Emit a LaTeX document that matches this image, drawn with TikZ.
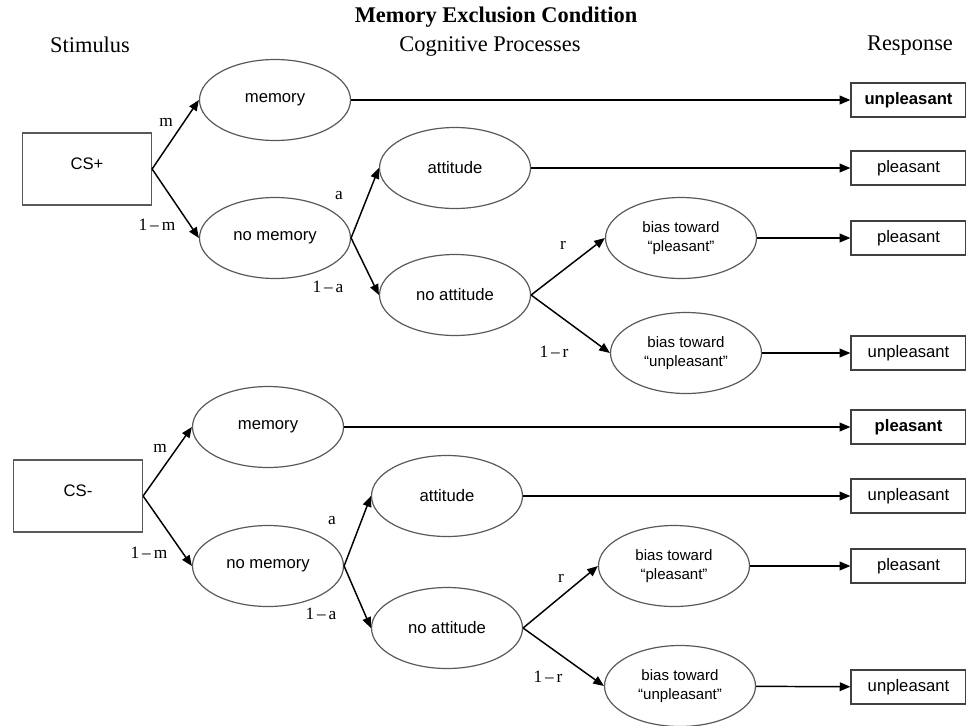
\documentclass[tikz,border=0pt]{standalone}
\usepackage{fontspec}
\setmainfont{Liberation Serif}
\newfontfamily\arialfont{Liberation Sans}
\usetikzlibrary{shapes.geometric,arrows.meta,positioning}

\tikzstyle{procNode} = [ellipse, minimum width=113.25pt, minimum height=60.75pt, inner sep=0pt, align=center, draw=black!65, line width=0.9pt, font=\arialfont\fontsize{12.5}{14}\selectfont]
\tikzstyle{biasNode} = [procNode, font=\arialfont\fontsize{11.3}{14}\selectfont]
\tikzstyle{stimNode} = [rectangle, minimum width=96.75pt, text height=27pt, text depth=27pt, inner sep=0pt, draw=black!65, line width=0.9pt, font=\arialfont\fontsize{12.5}{14}\selectfont]
\tikzstyle{respNode} = [rectangle, minimum width=86.25pt, minimum height=25.5pt, inner sep=0pt, draw=black!75, line width=0.9pt, font=\arialfont\fontsize{12.5}{14}\selectfont]
\tikzstyle{probLabel} = [inner sep=0pt, font=\fontsize{13}{15}\selectfont]
\tikzstyle{headLabel} = [inner sep=0pt, font=\fontsize{16.8}{20}\selectfont]
\tikzstyle{arrow} = [line width=1.1pt, -{Triangle[length=8pt,width=6.5pt]}]

\begin{document}
\begin{tikzpicture}[x=0.75pt, y=-0.75pt]
    \useasboundingbox (0,0) rectangle (966,725);

    % headings
    \node (title)[headLabel, font=\bfseries\fontsize{16.8}{20}\selectfont] at (496,17) {Memory Exclusion Condition};
    \node (stimHead)[headLabel] at (90,45) {Stimulus};
    \node (cogHead)[headLabel] at (490,46) {Cognitive Processes};
    \node (respHead)[headLabel] at (910,46) {Response};

    % CS+ tree
    \node (csPlus)[stimNode] at (87,169) {CS+};
    \node (memPlus)[procNode] at (275,100) {memory};
    \node (noMemPlus)[procNode, below=103.5pt of memPlus.center, anchor=center] {no memory};
    \node (attPlus)[procNode] at (455,168) {attitude};
    \node (noAttPlus)[procNode] at (455,295) {no attitude};
    \node (biasPPlus)[biasNode] at (681,238) {bias toward\\“pleasant”};
    \node (biasUPlus)[biasNode] at (686,353) {bias toward\\“unpleasant”};

    \node (resp1)[respNode, font=\arialfont\bfseries\fontsize{12.5}{14}\selectfont] at (908.5,100) {unpleasant};
    \node (resp2)[respNode] at (908.5,168) {pleasant};
    \node (resp3)[respNode] at (908.5,238) {pleasant};
    \node (resp4)[respNode] at (908.5,353) {unpleasant};

    % CS- tree
    \node (csMinus)[stimNode] at (78,496) {CS-};
    \node (memMinus)[procNode] at (268,427) {memory};
    \node (noMemMinus)[procNode, below=104.25pt of memMinus.center, anchor=center] {no memory};
    \node (attMinus)[procNode] at (447,496) {attitude};
    \node (noAttMinus)[procNode] at (447,628) {no attitude};
    \node (biasPMinus)[biasNode] at (674,566) {bias toward\\“pleasant”};
    \node (biasUMinus)[biasNode] at (680,686) {bias toward\\“unpleasant”};

    \node (resp5)[respNode, font=\arialfont\bfseries\fontsize{12.5}{14}\selectfont] at (908.5,427) {pleasant};
    \node (resp6)[respNode] at (908.5,496) {unpleasant};
    \node (resp7)[respNode] at (908.5,566) {pleasant};
    \node (resp8)[respNode] at (908.5,687) {unpleasant};

    % probabilities
    \node (pM1)[probLabel] at (166,122) {m};
    \node (pNM1)[probLabel] at (157,225) {1\,–\,m};
    \node (pA1)[probLabel] at (339,196) {a};
    \node (pNA1)[probLabel] at (328,287) {1\,–\,a};
    \node (pR1)[probLabel] at (563,245) {r};
    \node (pNR1)[probLabel] at (554,352) {1\,–\,r};
    \node (pM2)[probLabel] at (160,448) {m};
    \node (pNM2)[probLabel] at (149,553) {1\,–\,m};
    \node (pA2)[probLabel] at (332,521) {a};
    \node (pNA2)[probLabel] at (321,614) {1\,–\,a};
    \node (pR2)[probLabel] at (561,578) {r};
    \node (pNR2)[probLabel] at (548,677) {1\,–\,r};

    \draw [arrow] (csPlus.east) -- (memPlus.west);
    \draw [arrow] (csPlus.east) -- (noMemPlus.west);
    \draw [arrow] (noMemPlus.east) -- (attPlus.west);
    \draw [arrow] (noMemPlus.east) -- (noAttPlus.west);
    \draw [arrow] (noAttPlus.east) -- (biasPPlus.west);
    \draw [arrow] (noAttPlus.east) -- (biasUPlus.west);
    \draw [arrow] (memPlus) -- (resp1);
    \draw [arrow] (attPlus) -- (resp2);
    \draw [arrow] (biasPPlus) -- (resp3);
    \draw [arrow] (biasUPlus) -- (resp4);

    \draw [arrow] (csMinus.east) -- (memMinus.west);
    \draw [arrow] (csMinus.east) -- (noMemMinus.west);
    \draw [arrow] (noMemMinus.east) -- (attMinus.west);
    \draw [arrow] (noMemMinus.east) -- (noAttMinus.west);
    \draw [arrow] (noAttMinus.east) -- (biasPMinus.west);
    \draw [arrow] (noAttMinus.east) -- (biasUMinus.west);
    \draw [arrow] (memMinus) -- (resp5);
    \draw [arrow] (attMinus) -- (resp6);
    \draw [arrow] (biasPMinus) -- (resp7);
    \draw [arrow] (biasUMinus) -- (resp8);

\end{tikzpicture}
\end{document}
